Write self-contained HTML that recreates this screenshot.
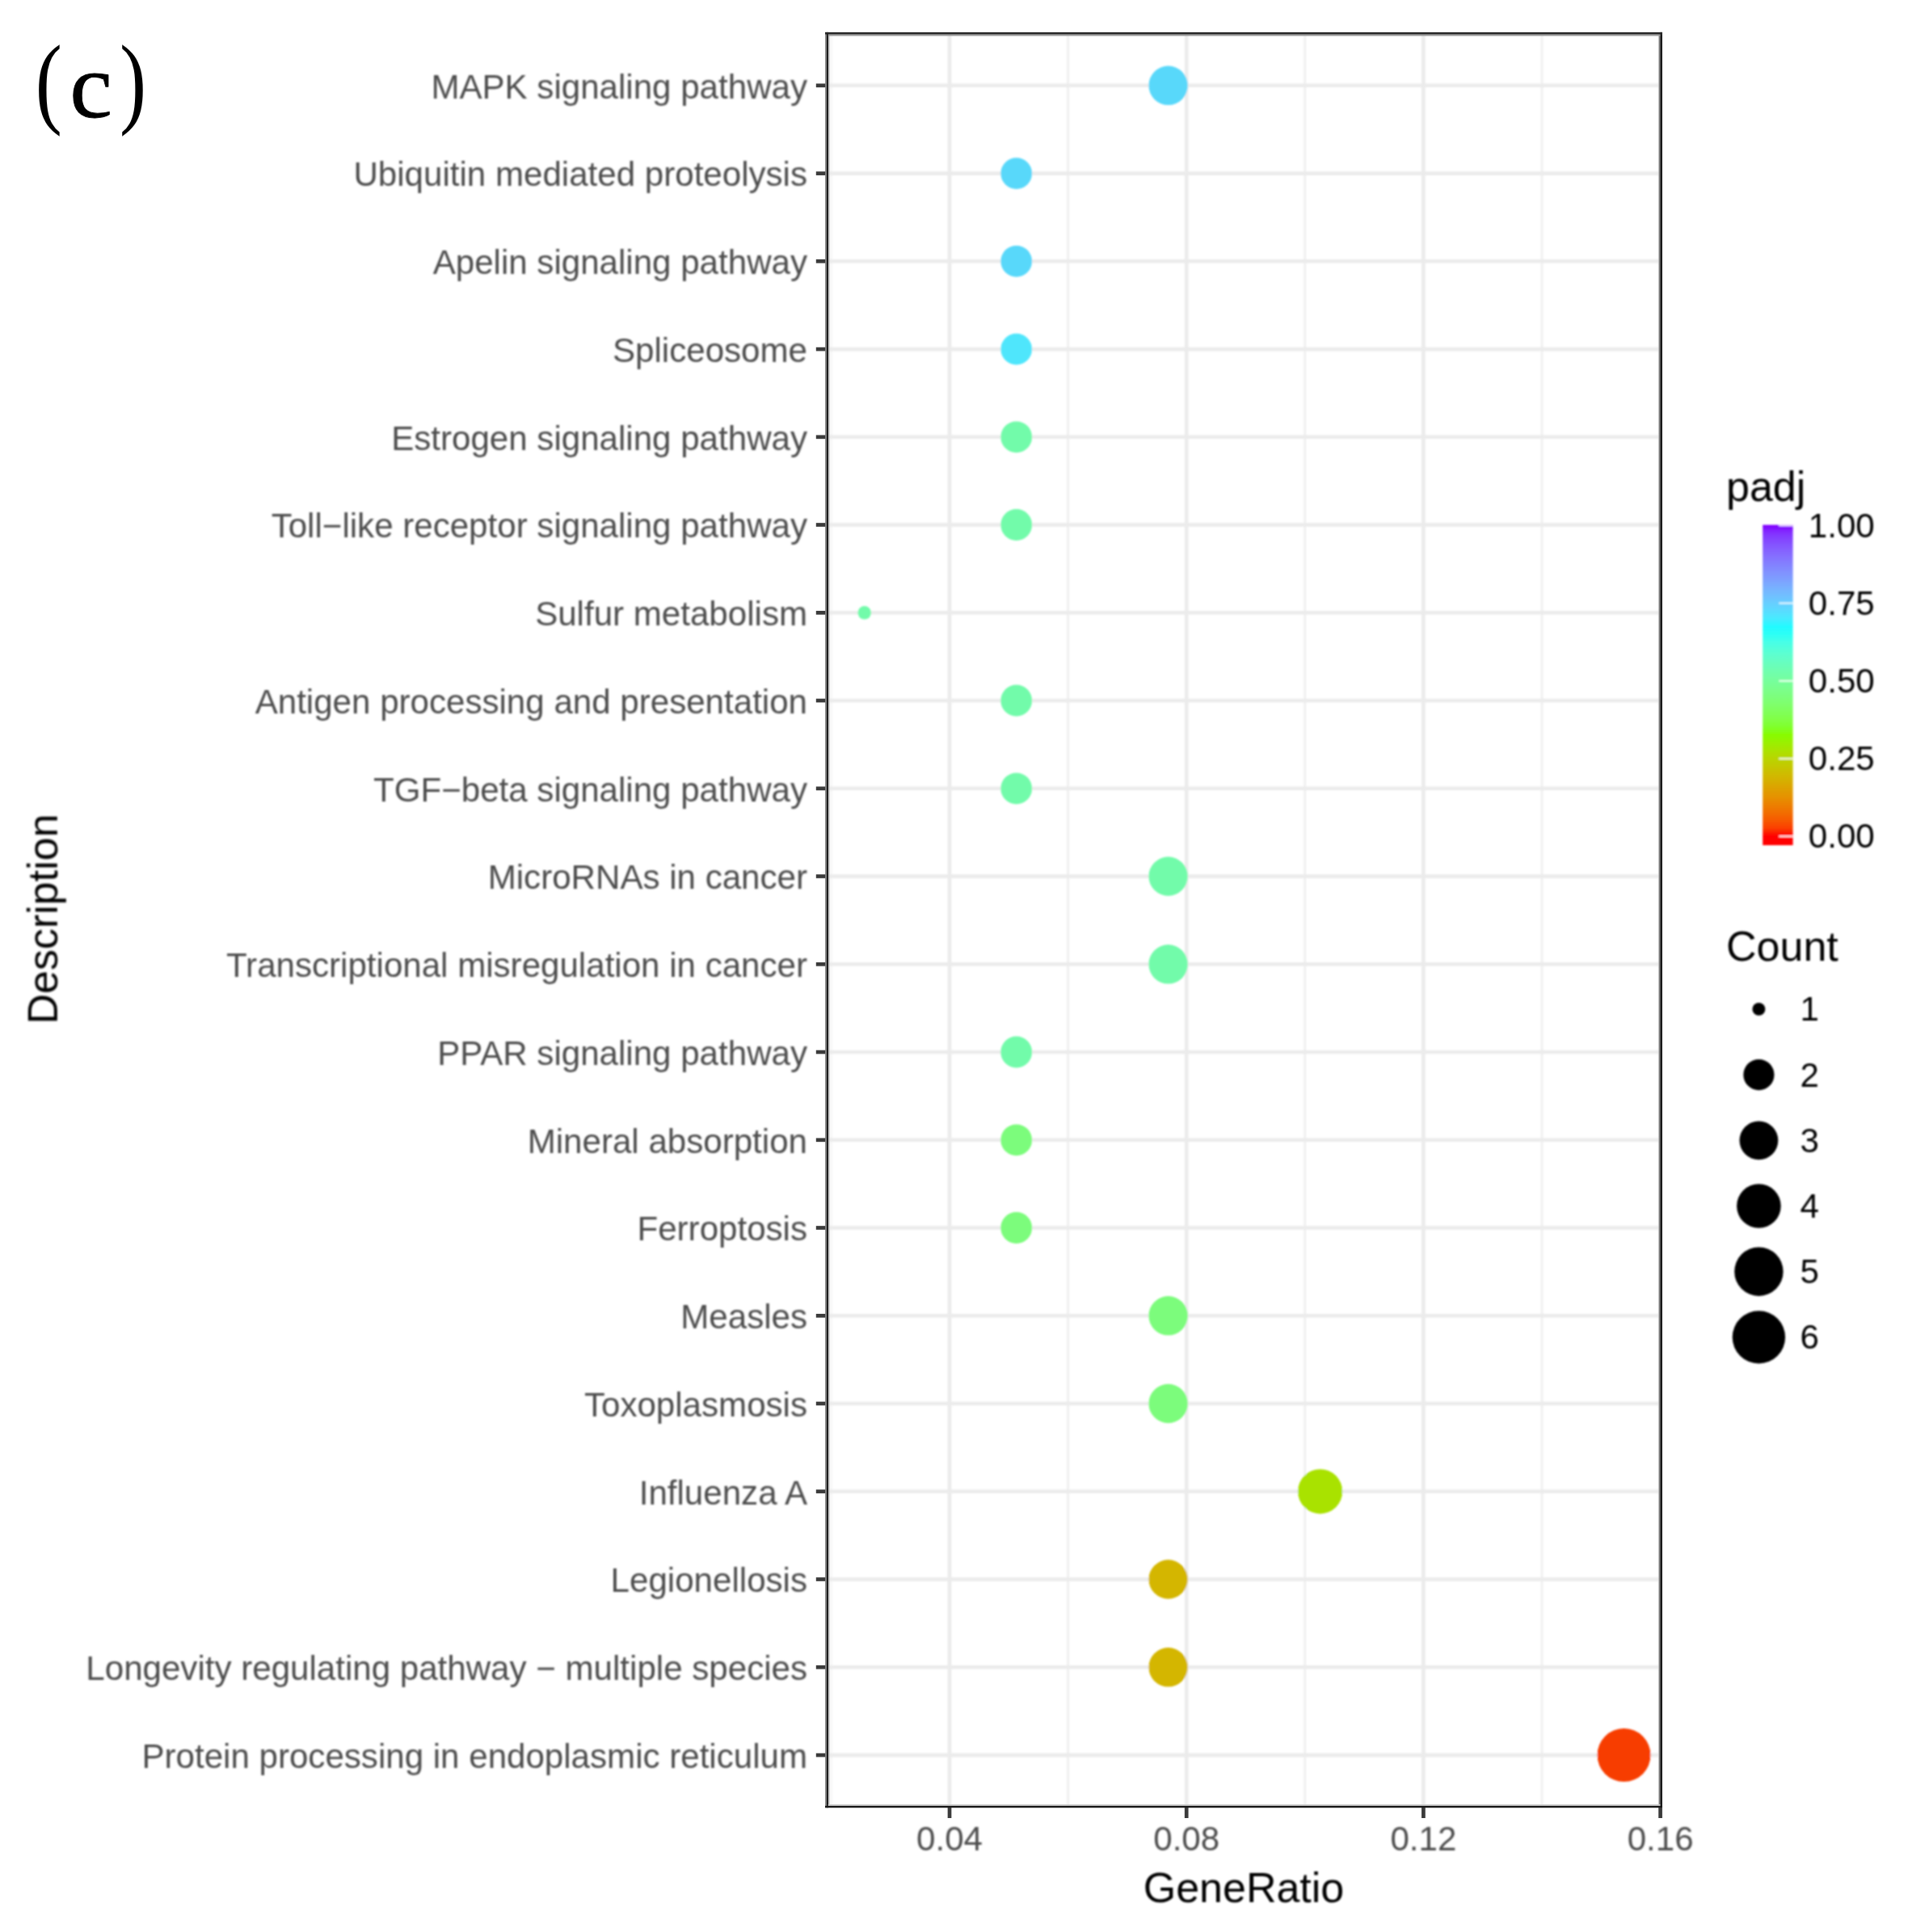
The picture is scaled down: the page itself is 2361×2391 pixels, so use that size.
<!DOCTYPE html>
<html lang="en"><head><meta charset="utf-8"><title>KEGG enrichment dot plot (c)</title>
<style>
html,body{margin:0;padding:0;background:#fff}
body{width:2361px;height:2391px;overflow:hidden;position:relative}
svg{position:absolute;left:0;top:0;display:block}
text{font-family:"Liberation Sans",sans-serif}
.ax{font-size:42.1px;fill:#4d4d4d}
.lg{font-size:42.1px;fill:#000}
.ti{font-size:52.0px;fill:#000}
.pn text{font-family:"Liberation Serif",serif;fill:#000}
</style></head><body>
<svg width="2361" height="2391" viewBox="0 0 2361 2391">
<defs><linearGradient id="cb" x1="0" y1="1" x2="0" y2="0">
<stop offset="0.0277" stop-color="#FF0000"/>
<stop offset="0.0520" stop-color="#FB3D00"/>
<stop offset="0.0763" stop-color="#F75800"/>
<stop offset="0.1005" stop-color="#F26D00"/>
<stop offset="0.1248" stop-color="#EC7F00"/>
<stop offset="0.1490" stop-color="#E69000"/>
<stop offset="0.1733" stop-color="#DF9F00"/>
<stop offset="0.1975" stop-color="#D7AD00"/>
<stop offset="0.2218" stop-color="#CFBB00"/>
<stop offset="0.2461" stop-color="#C4C800"/>
<stop offset="0.2703" stop-color="#B9D500"/>
<stop offset="0.2946" stop-color="#ABE200"/>
<stop offset="0.3188" stop-color="#9BEF00"/>
<stop offset="0.3431" stop-color="#88FB00"/>
<stop offset="0.3673" stop-color="#80FF29"/>
<stop offset="0.3916" stop-color="#81FF44"/>
<stop offset="0.4158" stop-color="#80FF59"/>
<stop offset="0.4401" stop-color="#7FFF6C"/>
<stop offset="0.4644" stop-color="#7DFE7D"/>
<stop offset="0.4886" stop-color="#7AFE8D"/>
<stop offset="0.5129" stop-color="#76FE9C"/>
<stop offset="0.5371" stop-color="#71FEAB"/>
<stop offset="0.5614" stop-color="#6AFEBA"/>
<stop offset="0.5856" stop-color="#62FEC9"/>
<stop offset="0.6099" stop-color="#56FFD8"/>
<stop offset="0.6341" stop-color="#47FFE7"/>
<stop offset="0.6584" stop-color="#2DFFF5"/>
<stop offset="0.6827" stop-color="#23FAFF"/>
<stop offset="0.7069" stop-color="#47EBFF"/>
<stop offset="0.7312" stop-color="#5ADCFF"/>
<stop offset="0.7554" stop-color="#67CEFF"/>
<stop offset="0.7797" stop-color="#71BFFF"/>
<stop offset="0.8039" stop-color="#78B0FF"/>
<stop offset="0.8282" stop-color="#7DA0FF"/>
<stop offset="0.8524" stop-color="#8191FF"/>
<stop offset="0.8767" stop-color="#8381FF"/>
<stop offset="0.9010" stop-color="#8570FF"/>
<stop offset="0.9252" stop-color="#855EFF"/>
<stop offset="0.9495" stop-color="#844AFF"/>
<stop offset="0.9737" stop-color="#8332FF"/>
<stop offset="0.9980" stop-color="#8000FF"/>
</linearGradient><filter id="bl" x="0" y="0" width="2361" height="2391" filterUnits="userSpaceOnUse"><feGaussianBlur stdDeviation="0.8"/></filter><filter id="bs" x="0" y="0" width="2361" height="2391" filterUnits="userSpaceOnUse"><feGaussianBlur stdDeviation="0.35"/></filter><clipPath id="pc"><rect x="1023.5" y="42.0" width="1030.9" height="2194.0"/></clipPath></defs>
<rect x="0" y="0" width="2361" height="2391" fill="#fff"/>
<g filter="url(#bl)">
<g clip-path="url(#pc)" stroke="#ebebeb" fill="none">
<line x1="1028.4" x2="1028.4" y1="42.0" y2="2236.0" stroke-width="2.6" stroke="#f5f5f5"/>
<line x1="1321.6" x2="1321.6" y1="42.0" y2="2236.0" stroke-width="2.6" stroke="#eeeeee"/>
<line x1="1614.8" x2="1614.8" y1="42.0" y2="2236.0" stroke-width="2.6" stroke="#eeeeee"/>
<line x1="1908.0" x2="1908.0" y1="42.0" y2="2236.0" stroke-width="2.6" stroke="#eeeeee"/>
<line x1="1175.0" x2="1175.0" y1="42.0" y2="2236.0" stroke-width="4.6"/>
<line x1="1468.2" x2="1468.2" y1="42.0" y2="2236.0" stroke-width="4.6"/>
<line x1="1761.4" x2="1761.4" y1="42.0" y2="2236.0" stroke-width="4.6"/>
<line x1="2054.6" x2="2054.6" y1="42.0" y2="2236.0" stroke-width="4.6"/>
<line x1="1023.5" x2="2054.4" y1="105.8" y2="105.8" stroke-width="4.6"/>
<line x1="1023.5" x2="2054.4" y1="214.6" y2="214.6" stroke-width="4.6"/>
<line x1="1023.5" x2="2054.4" y1="323.3" y2="323.3" stroke-width="4.6"/>
<line x1="1023.5" x2="2054.4" y1="432.1" y2="432.1" stroke-width="4.6"/>
<line x1="1023.5" x2="2054.4" y1="540.8" y2="540.8" stroke-width="4.6"/>
<line x1="1023.5" x2="2054.4" y1="649.5" y2="649.5" stroke-width="4.6"/>
<line x1="1023.5" x2="2054.4" y1="758.3" y2="758.3" stroke-width="4.6"/>
<line x1="1023.5" x2="2054.4" y1="867.0" y2="867.0" stroke-width="4.6"/>
<line x1="1023.5" x2="2054.4" y1="975.8" y2="975.8" stroke-width="4.6"/>
<line x1="1023.5" x2="2054.4" y1="1084.5" y2="1084.5" stroke-width="4.6"/>
<line x1="1023.5" x2="2054.4" y1="1193.3" y2="1193.3" stroke-width="4.6"/>
<line x1="1023.5" x2="2054.4" y1="1302.0" y2="1302.0" stroke-width="4.6"/>
<line x1="1023.5" x2="2054.4" y1="1410.8" y2="1410.8" stroke-width="4.6"/>
<line x1="1023.5" x2="2054.4" y1="1519.5" y2="1519.5" stroke-width="4.6"/>
<line x1="1023.5" x2="2054.4" y1="1628.3" y2="1628.3" stroke-width="4.6"/>
<line x1="1023.5" x2="2054.4" y1="1737.0" y2="1737.0" stroke-width="4.6"/>
<line x1="1023.5" x2="2054.4" y1="1845.8" y2="1845.8" stroke-width="4.6"/>
<line x1="1023.5" x2="2054.4" y1="1954.5" y2="1954.5" stroke-width="4.6"/>
<line x1="1023.5" x2="2054.4" y1="2063.3" y2="2063.3" stroke-width="4.6"/>
<line x1="1023.5" x2="2054.4" y1="2172.1" y2="2172.1" stroke-width="4.6"/>
</g>
<g>
<circle cx="1445.6" cy="105.8" r="24.20" fill="#58D8FA"/>
<circle cx="1257.7" cy="214.6" r="19.40" fill="#58D8FA"/>
<circle cx="1257.7" cy="323.3" r="19.40" fill="#58D8FA"/>
<circle cx="1257.7" cy="432.1" r="19.40" fill="#50E6FC"/>
<circle cx="1257.7" cy="540.8" r="19.40" fill="#72FBAA"/>
<circle cx="1257.7" cy="649.5" r="19.40" fill="#72FBAA"/>
<circle cx="1069.7" cy="758.3" r="8.25" fill="#72FBAA"/>
<circle cx="1257.7" cy="867.0" r="19.40" fill="#72FBAA"/>
<circle cx="1257.7" cy="975.8" r="19.40" fill="#72FBAA"/>
<circle cx="1445.6" cy="1084.5" r="24.20" fill="#72FBAA"/>
<circle cx="1445.6" cy="1193.3" r="24.20" fill="#72FBAA"/>
<circle cx="1257.7" cy="1302.0" r="19.40" fill="#72FBAA"/>
<circle cx="1257.7" cy="1410.8" r="19.40" fill="#7BFC7B"/>
<circle cx="1257.7" cy="1519.5" r="19.40" fill="#7BFC7B"/>
<circle cx="1445.6" cy="1628.3" r="24.20" fill="#7BFC7B"/>
<circle cx="1445.6" cy="1737.0" r="24.20" fill="#7BFC7B"/>
<circle cx="1633.6" cy="1845.8" r="27.60" fill="#A9E206"/>
<circle cx="1445.6" cy="1954.5" r="24.20" fill="#D4B606"/>
<circle cx="1445.6" cy="2063.3" r="24.20" fill="#D4B606"/>
<circle cx="2009.5" cy="2172.1" r="33.00" fill="#F73C00"/>
</g>
</g>
<g filter="url(#bs)">
<g>
<rect x="1021.0" y="39.9" width="1.9" height="2197.3" fill="#8a8a8a"/>
<rect x="1024.8" y="42.5" width="1.9" height="2191" fill="#c4c4c4"/>
<rect x="1022.9" y="39.9" width="1.95" height="2197.3" fill="#0c0c0c"/>
<rect x="2052.6" y="42.5" width="1.8" height="2192" fill="#7a7a7a"/>
<rect x="2054.4" y="39.9" width="2.5" height="2197.3" fill="#111"/>
<rect x="1024.8" y="42.5" width="1029.6" height="2.0" fill="#9a9a9a"/>
<rect x="1021.0" y="39.9" width="1035.9" height="2.6" fill="#262626"/>
<rect x="1024.8" y="2233.0" width="1029.6" height="1.85" fill="#cdcdcd"/>
<rect x="1021.0" y="2234.85" width="1035.9" height="2.35" fill="#151515"/>
</g>
<g stroke="#3a3a3a" stroke-width="4.7">
<line x1="1009.8" x2="1021.2" y1="105.8" y2="105.8"/>
<line x1="1009.8" x2="1021.2" y1="214.6" y2="214.6"/>
<line x1="1009.8" x2="1021.2" y1="323.3" y2="323.3"/>
<line x1="1009.8" x2="1021.2" y1="432.1" y2="432.1"/>
<line x1="1009.8" x2="1021.2" y1="540.8" y2="540.8"/>
<line x1="1009.8" x2="1021.2" y1="649.5" y2="649.5"/>
<line x1="1009.8" x2="1021.2" y1="758.3" y2="758.3"/>
<line x1="1009.8" x2="1021.2" y1="867.0" y2="867.0"/>
<line x1="1009.8" x2="1021.2" y1="975.8" y2="975.8"/>
<line x1="1009.8" x2="1021.2" y1="1084.5" y2="1084.5"/>
<line x1="1009.8" x2="1021.2" y1="1193.3" y2="1193.3"/>
<line x1="1009.8" x2="1021.2" y1="1302.0" y2="1302.0"/>
<line x1="1009.8" x2="1021.2" y1="1410.8" y2="1410.8"/>
<line x1="1009.8" x2="1021.2" y1="1519.5" y2="1519.5"/>
<line x1="1009.8" x2="1021.2" y1="1628.3" y2="1628.3"/>
<line x1="1009.8" x2="1021.2" y1="1737.0" y2="1737.0"/>
<line x1="1009.8" x2="1021.2" y1="1845.8" y2="1845.8"/>
<line x1="1009.8" x2="1021.2" y1="1954.5" y2="1954.5"/>
<line x1="1009.8" x2="1021.2" y1="2063.3" y2="2063.3"/>
<line x1="1009.8" x2="1021.2" y1="2172.1" y2="2172.1"/>
<line x1="1175.0" x2="1175.0" y1="2237" y2="2250"/>
<line x1="1468.2" x2="1468.2" y1="2237" y2="2250"/>
<line x1="1761.4" x2="1761.4" y1="2237" y2="2250"/>
<line x1="2054.6" x2="2054.6" y1="2237" y2="2250"/>
</g>
</g>
<g class="pn" filter="url(#bs)"><text font-size="124.2" transform="translate(43.7,141.7) scale(0.80,1)">(</text><text font-size="114" stroke="#000" stroke-width="0.8" stroke-linejoin="round" transform="translate(86.2,145.3) scale(1.042,1)">c</text><text font-size="124.2" transform="translate(148.1,141.7) scale(0.80,1)">)</text></g>
<g filter="url(#bl)">
<g class="ax" text-anchor="end">
<text x="999" y="121.5">MAPK signaling pathway</text>
<text x="999" y="230.2">Ubiquitin mediated proteolysis</text>
<text x="999" y="339.0">Apelin signaling pathway</text>
<text x="999" y="447.8">Spliceosome</text>
<text x="999" y="556.5">Estrogen signaling pathway</text>
<text x="999" y="665.2">Toll−like receptor signaling pathway</text>
<text x="999" y="774.0">Sulfur metabolism</text>
<text x="999" y="882.8">Antigen processing and presentation</text>
<text x="999" y="991.5">TGF−beta signaling pathway</text>
<text x="999" y="1100.2">MicroRNAs in cancer</text>
<text x="999" y="1209.0">Transcriptional misregulation in cancer</text>
<text x="999" y="1317.8">PPAR signaling pathway</text>
<text x="999" y="1426.5">Mineral absorption</text>
<text x="999" y="1535.2">Ferroptosis</text>
<text x="999" y="1644.0">Measles</text>
<text x="999" y="1752.8">Toxoplasmosis</text>
<text x="999" y="1861.5">Influenza A</text>
<text x="999" y="1970.2">Legionellosis</text>
<text x="999" y="2079.0">Longevity regulating pathway − multiple species</text>
<text x="999" y="2187.8">Protein processing in endoplasmic reticulum</text>
</g>
<g class="ax" text-anchor="middle">
<text x="1175.0" y="2290.4">0.04</text>
<text x="1468.2" y="2290.4">0.08</text>
<text x="1761.4" y="2290.4">0.12</text>
<text x="2054.6" y="2290.4">0.16</text>
</g>
<text class="ti" text-anchor="middle" x="1539.0" y="2354">GeneRatio</text>
<text class="ti" text-anchor="middle" transform="translate(70.8,1137.5) rotate(-90)">Description</text>
<text class="ti" x="2136" y="620.2">padj</text>
<rect x="2181.2" y="649.6" width="37.4" height="396.4" fill="url(#cb)"/>
<g stroke="#fff" stroke-width="2" stroke-opacity="0.85">
<line x1="2201.3" x2="2218.6" y1="650.4" y2="650.4"/>
<line x1="2201.3" x2="2218.6" y1="746.5" y2="746.5"/>
<line x1="2201.3" x2="2218.6" y1="842.7" y2="842.7"/>
<line x1="2201.3" x2="2218.6" y1="938.9" y2="938.9"/>
<line x1="2201.3" x2="2218.6" y1="1035.0" y2="1035.0"/>
</g>
<g class="lg">
<text x="2237.8" y="664.5">1.00</text>
<text x="2237.8" y="760.6">0.75</text>
<text x="2237.8" y="856.8">0.50</text>
<text x="2237.8" y="953.0">0.25</text>
<text x="2237.8" y="1049.1">0.00</text>
</g>
<text class="ti" x="2136" y="1189">Count</text>
<g fill="#000">
<circle cx="2176.4" cy="1248.9" r="7.95"/>
<circle cx="2176.4" cy="1330.1" r="19.10"/>
<circle cx="2176.4" cy="1411.3" r="23.90"/>
<circle cx="2176.4" cy="1492.5" r="27.30"/>
<circle cx="2176.4" cy="1573.7" r="30.20"/>
<circle cx="2176.4" cy="1654.9" r="32.70"/>
</g><g class="lg">
<text x="2227.6" y="1263.4">1</text>
<text x="2227.6" y="1344.6">2</text>
<text x="2227.6" y="1425.8">3</text>
<text x="2227.6" y="1507.0">4</text>
<text x="2227.6" y="1588.2">5</text>
<text x="2227.6" y="1669.4">6</text>
</g>
</g>
</svg></body></html>
